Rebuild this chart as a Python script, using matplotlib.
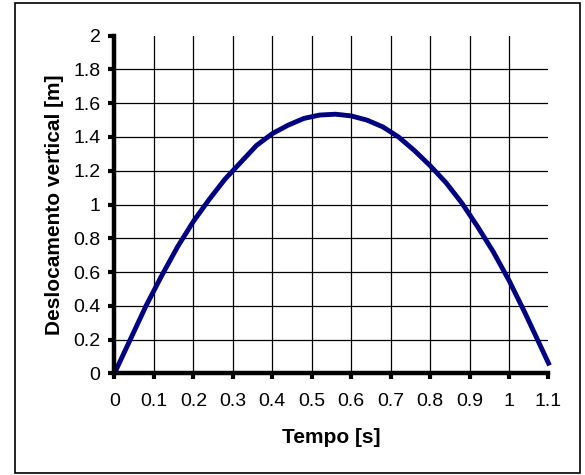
import matplotlib.pyplot as plt
from matplotlib.patches import Rectangle
import numpy as np

plt.rcParams['font.family'] = ['Liberation Sans', 'DejaVu Sans']

# Data
tempo = [0.0, 0.04, 0.08, 0.12, 0.16, 0.20, 0.24, 0.28, 0.32, 0.36, 0.40, 0.44,
         0.48, 0.52, 0.56, 0.60, 0.64, 0.68, 0.72, 0.76, 0.80, 0.84, 0.88, 0.92,
         0.96, 1.00, 1.04, 1.08, 1.10]
desloc = [0.0, 0.20, 0.40, 0.58, 0.75, 0.90, 1.03, 1.15, 1.25, 1.35, 1.42, 1.47,
          1.51, 1.53, 1.535, 1.525, 1.50, 1.46, 1.40, 1.32, 1.23, 1.13, 1.01, 0.87,
          0.72, 0.55, 0.36, 0.16, 0.06]

x_ticks = np.round(np.arange(0, 1.11, 0.1), 1)
y_ticks = np.round(np.arange(0, 2.01, 0.2), 1)
x_labels = ['0', '0.1', '0.2', '0.3', '0.4', '0.5', '0.6', '0.7', '0.8', '0.9', '1', '1.1']
y_labels = ['0', '0.2', '0.4', '0.6', '0.8', '1', '1.2', '1.4', '1.6', '1.8', '2']

# Layout
fig = plt.figure(figsize=(5.85, 4.75), dpi=100)
ax = fig.add_axes([0.1957, 0.2141, 0.7419, 0.7107])

# Plot
ax.plot(tempo, desloc, color='#000080', lw=3.5, solid_joinstyle='round', zorder=3, clip_on=False)

# Details
ax.set_xlim(0, 1.1)
ax.set_ylim(0, 2)
ax.set_xticks(x_ticks)
ax.set_yticks(y_ticks)
ax.set_xticklabels(x_labels)
ax.set_yticklabels(y_labels)
ax.tick_params(direction='out', length=4, width=3, labelsize=14, pad=10)
ax.tick_params(axis='y', pad=6)

ax.grid(True, color='black', lw=0.9)
ax.set_axisbelow(True)
ax.xaxis.get_gridlines()[-1].set_visible(False)
ax.yaxis.get_gridlines()[-1].set_visible(False)

for s in ['top', 'right']:
    ax.spines[s].set_visible(False)
for s in ['left', 'bottom']:
    ax.spines[s].set_linewidth(3.2)
    ax.spines[s].set_zorder(4)

ax.set_xlabel('Tempo [s]', fontsize=15, fontweight='bold', labelpad=13)
ax.set_ylabel('Deslocamento vertical [m]', fontsize=15, fontweight='bold', labelpad=7)

# Outer frame
fig.patches.append(Rectangle((14.5 / 585, 1 - 472.5 / 475), (580 - 14.5) / 585, (472.5 - 3) / 475,
                             transform=fig.transFigure, fill=False, edgecolor='black', lw=1.2))

# Save
fig.savefig('out.png', dpi=100)
